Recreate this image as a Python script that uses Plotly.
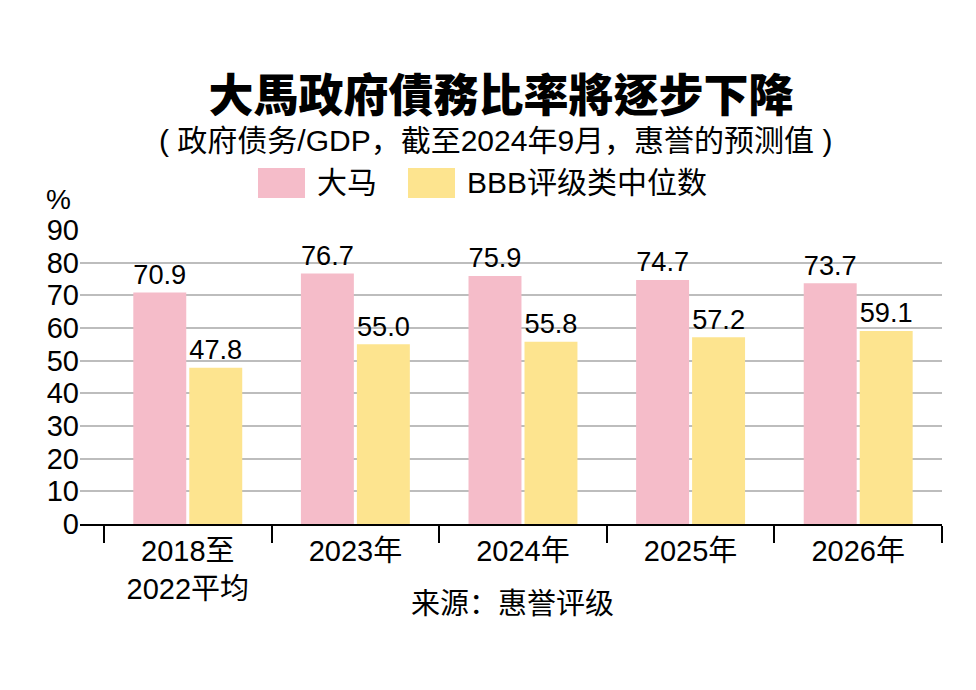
import plotly.graph_objects as go

categories = ["2018至<br>2022平均", "2023年", "2024年", "2025年", "2026年"]
series_names = ["大马", "BBB评级类中位数"]
malaysia = [70.9, 76.7, 75.9, 74.7, 73.7]
bbb_median = [47.8, 55.0, 55.8, 57.2, 59.1]
y_ticks = [0, 10, 20, 30, 40, 50, 60, 70, 80, 90]

title_text = "大馬政府債務比率將逐步下降"
subtitle_text = "( 政府债务/GDP，截至2024年9月，惠誉的预测值 )"
source_text = "来源：惠誉评级"
unit_text = "%"

PINK = "#F5BCC9"
YELLOW = "#FDE48F"
FONT = "Liberation Sans, Noto Sans CJK SC, sans-serif"
W, H = 976, 690
L, R, T, B = 80, 942, 230, 524


def px(x):
    return (x - L) / (R - L)


def py(y):
    return (B - y) / (B - T)


fig = go.Figure()
for name, vals, col in [(series_names[0], malaysia, PINK), (series_names[1], bbb_median, YELLOW)]:
    fig.add_trace(go.Bar(
        x=categories, y=vals, name=name, marker=dict(color=col, line=dict(width=0)),
        texttemplate="%{y:.1f}", textposition="outside",
        textfont=dict(family=FONT, size=29, color="black"),
        cliponaxis=False, showlegend=False, hoverinfo="skip",
    ))

fig.update_layout(
    width=W, height=H,
    margin=dict(l=L, r=W - R, t=T, b=H - B, autoexpand=False),
    paper_bgcolor="white", plot_bgcolor="white",
    barmode="group", bargap=0.332, bargroupgap=0.054,
    font=dict(family=FONT, size=28, color="black"),
    title=dict(text=title_text, x=501 / W, xanchor="center", y=1 - 96 / H, yanchor="middle",
               font=dict(family="Noto Sans CJK TC, Noto Sans CJK SC", size=45, color="black", weight=900)),
)

fig.update_xaxes(
    type="category", range=[-0.643, 4.5], tickson="boundaries",
    ticks="outside", ticklen=17, tickwidth=2, tickcolor="black",
    showline=True, linecolor="black", linewidth=2, showgrid=False,
    tickfont=dict(family=FONT, size=29, color="black"), automargin=False,
)
fig.update_yaxes(
    range=[0, 90], tickvals=y_ticks, ticktext=[str(v) for v in y_ticks],
    showgrid=True, gridcolor="#BDBDBD", gridwidth=2, zeroline=False,
    showline=False, ticks="", automargin=False,
    tickfont=dict(family=FONT, size=29, color="black"),
)

ann = []
ann.append(dict(text=subtitle_text, x=px(495), xref="paper", y=py(140), yref="paper",
                xanchor="center", yanchor="middle", showarrow=False,
                font=dict(family=FONT, size=30, color="black")))
ann.append(dict(text=unit_text, x=px(58), xref="paper", y=py(199), yref="paper",
                xanchor="center", yanchor="middle", showarrow=False,
                font=dict(family=FONT, size=28, color="black")))
ann.append(dict(text=source_text, x=px(512), xref="paper", y=py(601), yref="paper",
                xanchor="center", yanchor="middle", showarrow=False,
                font=dict(family="Noto Sans CJK SC", size=29, color="black")))

# legend drawn manually
shapes = []
legend_items = [(258, 305, 315, series_names[0], PINK), (408, 455, 465, series_names[1], YELLOW)]
for x0, x1, tx, name, col in legend_items:
    shapes.append(dict(type="rect", xref="paper", yref="paper", x0=px(x0), x1=px(x1),
                       y0=py(198), y1=py(168), fillcolor=col, line=dict(width=0)))
    ann.append(dict(text=name, x=px(tx), xref="paper", y=py(183), yref="paper",
                    xanchor="left", yanchor="middle", showarrow=False,
                    font=dict(family=FONT, size=30, color="black")))

fig.update_layout(annotations=ann, shapes=shapes)
fig.write_html("out.html", config={"displayModeBar": False},
               post_script="document.body.style.margin='0';")
